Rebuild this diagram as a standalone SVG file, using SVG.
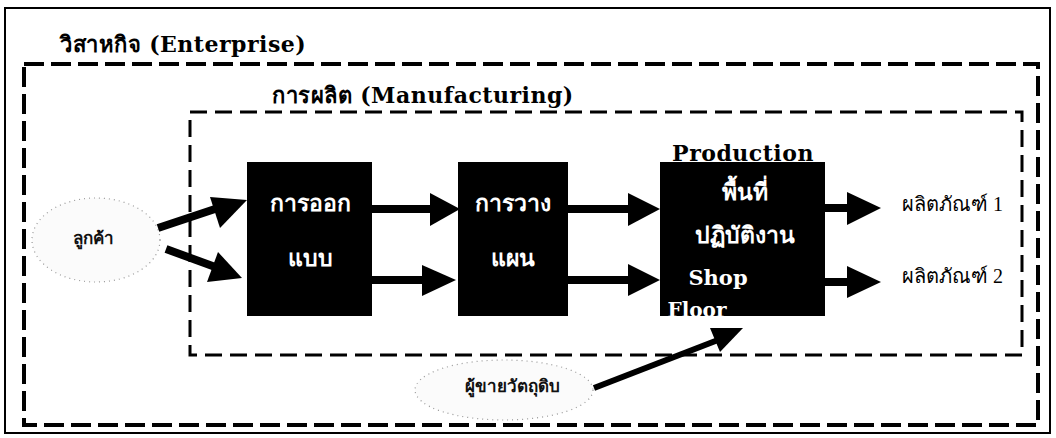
<svg xmlns="http://www.w3.org/2000/svg" width="1056" height="438" viewBox="0 0 1056 438">
<defs>
<style>
.frame{fill:none;stroke:#000;stroke-width:2}
.dashO{fill:none;stroke:#000;stroke-width:4;stroke-dasharray:20 7}
.dashI{fill:none;stroke:#000;stroke-width:3;stroke-dasharray:17 8}
.box{fill:#000}
.title{font-family:"DejaVu Serif",serif;font-weight:bold;font-size:22px;fill:#000;letter-spacing:0.5px}
.wt{font-family:"Liberation Serif",serif;font-weight:bold;font-size:23px;fill:#fff;text-anchor:middle}
.prod{font-family:"Liberation Serif",serif;font-size:20px;fill:#000}
.ell{fill:#fbfbfb;stroke:#999;stroke-width:1.2;stroke-dasharray:1 4}
.et{font-family:"Liberation Serif",serif;font-weight:bold;font-size:17px;fill:#111;text-anchor:middle}
.sf{font-family:"DejaVu Serif",serif;font-weight:bold;fill:#fff;text-anchor:middle}
.sh{stroke:#000;stroke-width:8;fill:none}
.ah{fill:#000}
</style>
</defs>
<rect class="frame" x="5" y="8" width="1045" height="425"/>
<text class="title" x="60" y="52">วิสาหกิจ (Enterprise)</text>
<rect class="dashO" x="24" y="64" width="1014" height="361"/>
<text class="title" x="272" y="103">การผลิต (Manufacturing)</text>
<rect class="dashI" x="190" y="112" width="832" height="243"/>

<g id="customer">
<ellipse class="ell" cx="96" cy="240" rx="64" ry="42"/>
<text class="et" x="93" y="244">ลูกค้า</text>
</g>
<g id="design">
<rect class="box" x="247" y="162" width="125" height="154"/>
<text class="wt" x="310" y="211">การออก</text>
<text class="wt" x="310" y="266">แบบ</text>
</g>
<g id="planning">
<rect class="box" x="458" y="162" width="110" height="154"/>
<text class="wt" x="513" y="211">การวาง</text>
<text class="wt" x="513" y="266">แผน</text>
</g>
<g id="shopfloor">
<rect class="box" x="660" y="162" width="165" height="154"/>
<text class="title" x="743" y="161" text-anchor="middle" font-size="19" letter-spacing="1">Production</text>
<text class="wt" x="745" y="200" font-size="20">พื้นที่</text>
<text class="wt" x="745" y="243" font-size="20">ปฏิบัติงาน</text>
<text class="sf" x="718" y="285" font-size="21">Shop</text>
<text class="sf" x="697" y="317" font-size="20">Floor</text>
</g>
<g id="product1"><text class="prod" x="902" y="211">ผลิตภัณฑ์ 1</text></g>
<g id="product2"><text class="prod" x="902" y="283">ผลิตภัณฑ์ 2</text></g>
<g id="supplier">
<ellipse class="ell" cx="504" cy="390" rx="89" ry="30"/>
<text class="et" x="512" y="392">ผู้ขายวัตถุดิบ</text>
</g>

<g id="connectors">
<line class="sh" x1="158" y1="228" x2="218" y2="208"/>
<polygon class="ah" points="247,200 210,197 220,228"/>
<line class="sh" x1="166" y1="249" x2="218" y2="268"/>
<polygon class="ah" points="242,278 218,252 207,282"/>
<line class="sh" x1="372" y1="209" x2="432" y2="209"/>
<polygon class="ah" points="460,209 430,193 430,226"/>
<line class="sh" x1="372" y1="280" x2="424" y2="280"/>
<polygon class="ah" points="456,280 422,265 422,296"/>
<line class="sh" x1="568" y1="209" x2="630" y2="209"/>
<polygon class="ah" points="660,209 628,193 628,226"/>
<line class="sh" x1="568" y1="280" x2="630" y2="280"/>
<polygon class="ah" points="660,280 628,264 628,296"/>
<line class="sh" x1="825" y1="208" x2="850" y2="208"/>
<polygon class="ah" points="881,208 847,192 847,225"/>
<line class="sh" x1="825" y1="282" x2="850" y2="282"/>
<polygon class="ah" points="881,282 847,266 847,298"/>
<line stroke="#000" stroke-width="6" x1="594" y1="388" x2="718" y2="340"/>
<polygon class="ah" points="743,328 710,328 720,352"/>
</g>
</svg>
